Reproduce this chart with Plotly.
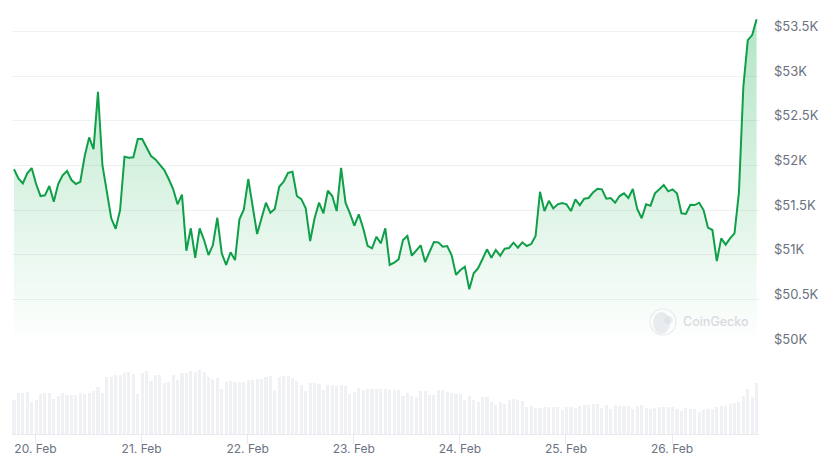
import pandas as pd
import plotly.graph_objects as go

W, H = 819, 462

# Hourly BTC price in USD
price = [
    51957, 51856, 51800, 51912, 51971, 51792, 51658, 51666, 51770, 51594,
    51792, 51889, 51938, 51837, 51792, 51818, 52105, 52314, 52183, 52824,
    52005, 51688, 51409, 51292, 51501, 52097, 52086, 52091, 52295, 52295,
    52198, 52105, 52068, 52005, 51949, 51848, 51736, 51565, 51673, 51046,
    51297, 50968, 51297, 51166, 50998, 51110, 51415, 51017, 50887, 51029,
    50942, 51398, 51509, 51848, 51538, 51233, 51409, 51583, 51471, 51513,
    51762, 51818, 51918, 51930, 51658, 51624, 51520, 51155, 51409, 51583,
    51465, 51717, 51658, 51490, 51974, 51583, 51465, 51326, 51453, 51297,
    51102, 51073, 51203, 51129, 51297, 50887, 50912, 50950, 51166, 51211,
    50991, 51054, 51107, 50920, 51035, 51144, 51140, 51091, 51099, 50998,
    50778, 50831, 50868, 50615, 50794, 50850, 50954, 51062, 50968, 51054,
    50991, 51069, 51077, 51136, 51080, 51140, 51099, 51121, 51211, 51706,
    51490, 51605, 51520, 51565, 51580, 51565, 51490, 51621, 51554, 51628,
    51636, 51699, 51740, 51733, 51628, 51636, 51583, 51658, 51688, 51636,
    51736, 51513, 51409, 51565, 51550, 51688, 51733, 51781, 51711, 51733,
    51686, 51465, 51457, 51561, 51557, 51583, 51501, 51304, 51278, 50931,
    51185, 51114, 51185, 51241, 51695, 52880, 53402, 53458, 53634,
]

# Hourly traded volume, billions of USD
volume = [
    34, 41, 41, 42, 32, 34, 40, 41, 41, 35, 38, 41, 39, 39, 39, 41, 40, 41, 43, 47,
    41, 57, 57, 59, 59, 61, 62, 60, 40, 61, 63, 53, 59, 59, 51, 52, 59, 54, 61, 61,
    63, 62, 64, 62, 57, 55, 56, 45, 52, 53, 52, 52, 52, 54, 54, 55, 55, 57, 58, 44,
    57, 58, 58, 56, 53, 49, 43, 51, 51, 50, 44, 49, 49, 48, 49, 48, 40, 42, 46, 44,
    45, 45, 45, 45, 45, 44, 44, 44, 38, 41, 38, 37, 43, 43, 39, 39, 44, 44, 42, 41,
    40, 40, 34, 38, 34, 32, 37, 37, 32, 29, 32, 30, 34, 35, 34, 33, 27, 28, 26, 26,
    27, 27, 27, 27, 24, 27, 27, 26, 28, 29, 29, 30, 30, 26, 29, 25, 29, 28, 28, 28,
    25, 28, 29, 26, 25, 26, 27, 27, 27, 27, 25, 23, 26, 25, 25, 22, 24, 25, 25, 27,
    28, 28, 30, 31, 32, 38, 45, 37, 51,
]

price_ticks = [50000, 50500, 51000, 51500, 52000, 52500, 53000, 53500]
price_labels = ["$50K", "$50.5K", "$51K", "$51.5K", "$52K", "$52.5K", "$53K", "$53.5K"]

day_ticks = ["2024-02-20", "2024-02-21", "2024-02-22", "2024-02-23",
             "2024-02-24", "2024-02-25", "2024-02-26"]
day_labels = ["20. Feb", "21. Feb", "22. Feb", "23. Feb", "24. Feb", "25. Feb", "26. Feb"]

times = pd.date_range("2024-02-19 19:08", periods=len(price), freq="h")

LINE = "#0f9f48"
GRID = "#eff0f3"
TEXT = "#6b7280"
BAR = "#f0f1f5"
FONT = "Inter"
HOUR_PX = 4.42

# Plot frame in pixels
left, right = 12, 759
top, base = 10, 344.3
vol_top, vol_base = 360, 434.3


def px_x(x):
    return x / W


def px_y(y):
    return 1 - y / H


hour = pd.Timedelta(hours=1)
x_range = [times[0] - hour * (2 / HOUR_PX), times[-1] + hour * (2.4 / HOUR_PX)]

fig = go.Figure()

fig.add_trace(go.Bar(
    x=times, y=volume, yaxis="y2",
    width=3.1 / HOUR_PX * 3600000,
    marker=dict(color=BAR, line_width=0),
    hoverinfo="skip",
))

fig.add_trace(go.Scatter(
    x=times, y=price, yaxis="y", mode="lines",
    line=dict(color=LINE, width=2),
    fill="tozeroy",
    fillgradient=dict(
        type="vertical",
        start=price_ticks[0],
        stop=max(price),
        colorscale=[[0, "rgba(0,168,62,0)"], [1, "rgba(0,168,62,0.3)"]],
    ),
))

# Watermark badge
cx, cy, r = 663, 322, 13
shapes = [
    dict(type="circle", xref="paper", yref="paper", layer="above",
         x0=px_x(cx - r), x1=px_x(cx + r), y0=px_y(cy + r), y1=px_y(cy - r),
         line=dict(color="rgba(214,218,224,0.55)", width=1.2),
         fillcolor="rgba(255,255,255,0.35)"),
    dict(type="circle", xref="paper", yref="paper", layer="above",
         x0=px_x(cx - 10), x1=px_x(cx + 7), y0=px_y(cy + 12), y1=px_y(cy - 10),
         line_width=0, fillcolor="rgba(214,218,224,0.5)"),
    dict(type="circle", xref="paper", yref="paper", layer="above",
         x0=px_x(cx + 1), x1=px_x(cx + 10), y0=px_y(cy + 2), y1=px_y(cy - 6),
         line_width=0, fillcolor="rgba(214,218,224,0.5)"),
]

fig.update_layout(
    width=W, height=H,
    margin=dict(l=0, r=0, t=0, b=0),
    paper_bgcolor="white", plot_bgcolor="white",
    showlegend=False, bargap=0,
    font=dict(family=FONT, size=12, color=TEXT),
    shapes=shapes,
    annotations=[dict(
        text="CoinGecko", xref="paper", yref="paper",
        x=px_x(680.5), y=px_y(321.5), xanchor="left", yanchor="middle", showarrow=False,
        font=dict(family=FONT, size=12.5, color="#d6dae0", weight=500),
    )],
    xaxis=dict(
        domain=[px_x(left), px_x(right)], range=x_range, anchor="y2",
        automargin=False,
        tickvals=day_ticks, ticktext=day_labels,
        ticks="outside", ticklen=9, tickwidth=1, tickcolor="#e8eaee",
        ticklabelstandoff=-6,
        tickfont=dict(family=FONT, size=12, color=TEXT),
        showgrid=False, zeroline=False,
        showline=True, linecolor="#e8eaee", linewidth=1,
    ),
    yaxis=dict(
        domain=[px_y(base), px_y(top)],
        range=[price_ticks[0], price_ticks[-1] + (31.3 - top) * 11.18],
        side="right", anchor="x", automargin=False,
        tickvals=price_ticks, ticktext=price_labels,
        ticks="", ticklabelstandoff=14, ticklabelshift=-5,
        tickfont=dict(family=FONT, size=13, color=TEXT),
        showgrid=True, gridcolor=GRID, gridwidth=1,
        zeroline=False, showline=False,
    ),
    yaxis2=dict(
        domain=[px_y(vol_base), px_y(vol_top)],
        range=[0, vol_base - vol_top], anchor="x", automargin=False,
        visible=False,
    ),
)

fig.write_html("out.html")
